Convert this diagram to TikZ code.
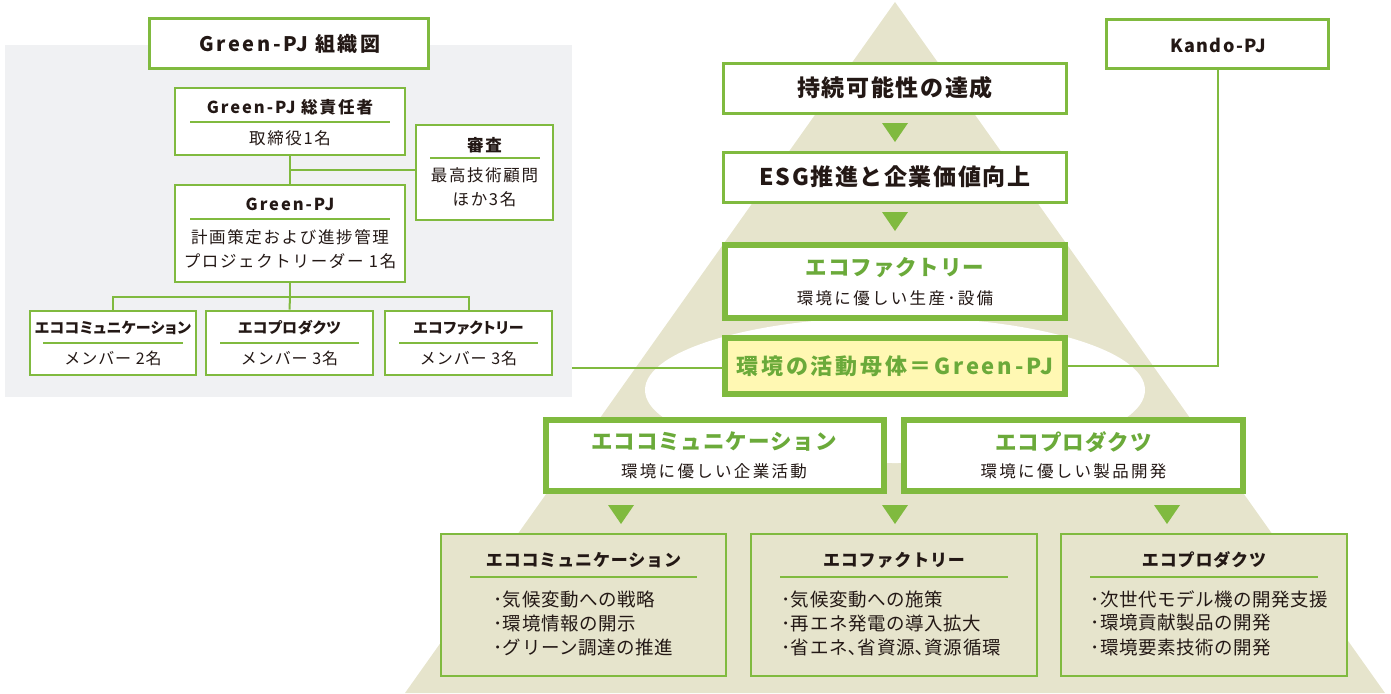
\documentclass[tikz,border=0pt]{standalone}
\usepackage{fontspec}
\setmainfont{Noto Sans CJK JP}
\definecolor{pgreen}{HTML}{80BA3F}
\definecolor{tgreen}{HTML}{6BAA3A}
\definecolor{khaki}{HTML}{E6E4CC}
\definecolor{bggray}{HTML}{F0F1F3}
\definecolor{ink}{HTML}{231815}
\definecolor{yel}{HTML}{FFF8B3}
\newcommand\fs[2]{\fontsize{#1}{#1}\selectfont\addfontfeature{LetterSpace=#2}}
\newcommand\rbox[6]{\node[#2, minimum width={#5-#3}, minimum height={#6-#4}] (#1) at ({(#3+#5)/2},{(#4+#6)/2}) {};}
\newcommand\darrow[3]{\fill[pgreen] (#2-13,#3) -- (#2+13,#3) -- (#2,#3+19) -- cycle;}
\tikzset{
  thinbox/.style={draw=pgreen, line width=2.7pt, fill=white, inner sep=0pt},
  thickbox/.style={draw=pgreen, line width=6pt, fill=white, inner sep=0pt},
  listbox/.style={draw=pgreen, line width=2.7pt, fill=khaki, inner sep=0pt},
  conn/.style={draw=pgreen, line width=2pt},
  rule/.style={draw=pgreen, line width=1.5pt},
  txt/.style={text=ink, inner sep=0pt, anchor=center},
  orgtitle/.style={txt, font=\bfseries\fs{16.5}{12}},
  orgbody/.style={txt, font=\fs{16.5}{10}},
  membtitle/.style={txt, font=\bfseries\fs{15}{2}\addfontfeature{CharacterWidth=AlternateProportional}},
  membbody/.style={txt, font=\fs{16}{6}},
  bigtitle/.style={txt, font=\bfseries\fs{23}{7}},
  gtitle/.style={txt, text=tgreen, font=\bfseries\fs{21.5}{4.5}},
  sub/.style={txt, font=\fs{16.5}{14}},
  ltitle/.style={txt, font=\bfseries\fs{17}{5}},
  item/.style={txt, anchor=west, font=\fs{18.5}{3}},
}
\begin{document}
\begin{tikzpicture}[x=1pt,y=-1pt]
\useasboundingbox (0,0) rectangle (1391,693);
% backgrounds
\fill[bggray] (5,45) rectangle (572,397);
\fill[khaki] (895,2) -- (1385,693) -- (405,693) -- cycle;
\fill[white] (895,390) ellipse [x radius=250, y radius=73];
% ---------- org chart ----------
\rbox{orgt}{thinbox}{149.5}{18.5}{428.5}{68.5}
\node[txt, font=\bfseries\fs{20}{13}] (orgtt) at (290,44) {Green-PJ 組織図};
\rbox{chief}{thinbox}{175}{88}{405}{155}
\node[orgtitle] (chieft) at (290,107) {Green-PJ 総責任者};
\draw[rule] (190,122) -- (390,122);
\node[orgbody] (chiefb) at (290,138) {取締役1名};
\rbox{shinsa}{thinbox}{416}{125}{553}{220}
\node[orgtitle] (shinsat) at (484.5,145) {審査};
\draw[rule] (430,158) -- (540,158);
\node[orgbody] (shinsab1) at (484.5,175) {最高技術顧問};
\node[orgbody] (shinsab2) at (484.5,199) {ほか3名};
\rbox{pj}{thinbox}{175}{185}{405}{282}
\node[orgtitle] (pjt) at (290,204) {Green-PJ};
\draw[rule] (190,219) -- (390,219);
\node[orgbody] (pjb1) at (290,237) {計画策定および進捗管理};
\node[orgbody] (pjb2) at (290,261) {プロジェクトリーダー 1名};
\rbox{m1}{thinbox}{30}{311}{196}{375}
\rbox{m2}{thinbox}{206}{311}{373}{375}
\rbox{m3}{thinbox}{385}{311}{552}{375}
\node[membtitle] (m1t) at (113,328) {エココミュニケーション};
\node[membtitle] (m2t) at (289.5,328) {エコプロダクツ};
\node[membtitle] (m3t) at (468.5,328) {エコファクトリー};
\draw[rule] (43,343) -- (183,343);
\draw[rule] (220,343) -- (359,343);
\draw[rule] (399,343) -- (538,343);
\node[membbody] (m1b) at (113,358) {メンバー 2名};
\node[membbody] (m2b) at (289.5,358) {メンバー 3名};
\node[membbody] (m3b) at (468.5,358) {メンバー 3名};
% org connectors
\draw[conn] (chief.south) -- (pj.north);
\coordinate (j1) at (290,170);
\draw[conn] (j1) -- (j1 -| shinsa.west);
\coordinate (bus) at (290,297);
\draw[conn] (pj.south) -- (bus);
\draw[conn] (bus) -| (m1.north);
\draw[conn] (bus) -| (m3.north);
\draw[conn] (bus) -- (m2.north);
% ---------- pyramid ----------
\rbox{kando}{thinbox}{1106.5}{19.5}{1328.5}{68.5}
\node[txt, font=\bfseries\fs{18}{8}] (kandot) at (1218,45) {Kando-PJ};
\rbox{goal}{thinbox}{723.5}{63.5}{1066.5}{113.5}
\node[bigtitle] (goalt) at (895,88) {持続可能性の達成};
\darrow{a1}{895}{123}
\rbox{esg}{thinbox}{723.5}{152.5}{1066.5}{202.5}
\node[bigtitle] (esgt) at (895,177) {ESG推進と企業価値向上};
\darrow{a2}{895}{212}
\rbox{fac}{thickbox}{725}{245}{1065}{318}
\node[gtitle] (fact) at (895,268) {エコファクトリー};
\node[sub] (facs) at (895,298) {環境に優しい生産･設備};
\rbox{gpj}{thickbox, fill=yel}{725}{338}{1065}{394}
\node[txt, text=tgreen, font=\bfseries\fs{22}{12.5}] (gpjt) at (895,366) {環境の活動母体＝Green-PJ};
\coordinate (gl) at (572,368);
\draw[conn] (gl) -- (gl -| gpj.west);
\draw[conn] (kando.south) |- (gpj.east);
\rbox{com}{thickbox}{546}{420}{884}{491}
\node[gtitle] (comt) at (714,442) {エココミュニケーション};
\node[sub] (coms) at (714,471) {環境に優しい企業活動};
\rbox{prd}{thickbox}{904}{420}{1243}{491}
\node[gtitle] (prdt) at (1073.5,442) {エコプロダクツ};
\node[sub] (prds) at (1073.5,471) {環境に優しい製品開発};
\darrow{a3}{621}{505}
\darrow{a4}{895}{505}
\darrow{a5}{1167}{505}
% list boxes
\rbox{l1}{listbox}{441}{534}{726}{676}
\rbox{l2}{listbox}{751}{534}{1037}{676}
\rbox{l3}{listbox}{1061}{534}{1347}{676}
\node[ltitle] (l1t) at (583.5,560) {エココミュニケーション};
\node[ltitle] (l2t) at (894,560) {エコファクトリー};
\node[ltitle] (l3t) at (1204,560) {エコプロダクツ};
\draw[rule] (470,577) -- (697,577);
\draw[rule] (780,577) -- (1008,577);
\draw[rule] (1090,577) -- (1318,577);
\node[item] (l1a) at (493,599) {･気候変動への戦略};
\node[item] (l1b) at (493,623) {･環境情報の開示};
\node[item] (l1c) at (493,647) {･グリーン調達の推進};
\node[item] (l2a) at (781,599) {･気候変動への施策};
\node[item] (l2b) at (781,623) {･再エネ発電の導入拡大};
\node[item] (l2c) at (781,647) {･省エネ､省資源､資源循環};
\node[item] (l3a) at (1090,599) {･次世代モデル機の開発支援};
\node[item] (l3b) at (1090,623) {･環境貢献製品の開発};
\node[item] (l3c) at (1090,647) {･環境要素技術の開発};
\end{tikzpicture}
\end{document}
